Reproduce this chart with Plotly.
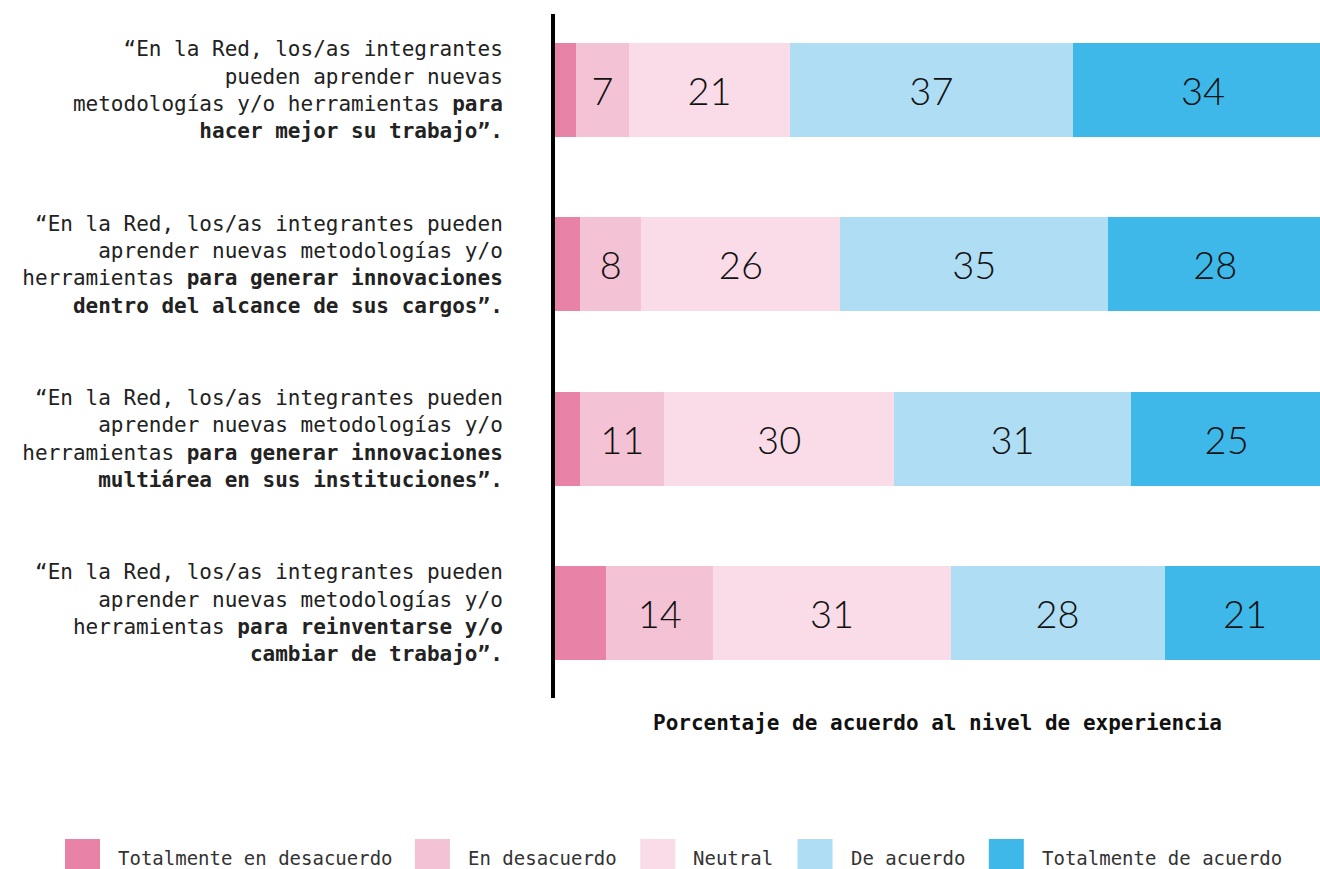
import plotly.graph_objects as go

# ---------------- data ----------------
statements = [
    "“En la Red, los/as integrantes<br>pueden aprender nuevas<br>metodologías y/o herramientas <b>para</b><br><b>hacer mejor su trabajo”.</b>",
    "“En la Red, los/as integrantes pueden<br>aprender nuevas metodologías y/o<br>herramientas <b>para generar innovaciones</b><br><b>dentro del alcance de sus cargos”.</b>",
    "“En la Red, los/as integrantes pueden<br>aprender nuevas metodologías y/o<br>herramientas <b>para generar innovaciones</b><br><b>multiárea en sus instituciones”.</b>",
    "“En la Red, los/as integrantes pueden<br>aprender nuevas metodologías y/o<br>herramientas <b>para reinventarse y/o</b><br><b>cambiar de trabajo”.</b>",
]
series_names = ["Totalmente en desacuerdo", "En desacuerdo", "Neutral", "De acuerdo", "Totalmente de acuerdo"]
totalmente_desacuerdo = [2.7, 3.3, 3.3, 6.7]
en_desacuerdo = [7, 8, 11, 14]
neutral = [21, 26, 30, 31]
de_acuerdo = [37, 35, 31, 28]
totalmente_acuerdo = [34, 28, 25, 21]
series_values = [totalmente_desacuerdo, en_desacuerdo, neutral, de_acuerdo, totalmente_acuerdo]
show_labels = [False, True, True, True, True]
colors = ["#E882A6", "#F4C2D5", "#F9DCE7", "#AEDDF4", "#3DB8E8"]
x_title = "Porcentaje de acuerdo al nivel de experiencia"

# ---------------- layout constants ----------------
W, H = 1320, 869
L, R, T, B = 555, 0, 14, 171
PW, PH = W - L - R, H - T - B
MONO = "DejaVu Sans Mono"

fig = go.Figure()
for name, vals, col, lab in zip(series_names, series_values, colors, show_labels):
    fig.add_trace(go.Bar(
        y=statements, x=vals, name=name, orientation="h",
        marker=dict(color=col, line=dict(width=0)),
        text=[f"{v:g}" for v in vals] if lab else None,
        textposition="inside" if lab else "none",
        insidetextanchor="middle",
        textfont=dict(family="Lato", size=38, color="#111", weight=300),
        constraintext="none",
        showlegend=False,
    ))

fig.update_layout(
    width=W, height=H,
    margin=dict(l=L, r=R, t=T, b=B),
    barmode="stack",
    bargap=0.46,
    plot_bgcolor="white", paper_bgcolor="white",
    font=dict(family=MONO, color="#222"),
)
fig.update_xaxes(
    range=[0, 100], showgrid=False, zeroline=False, showticklabels=False, ticks="",
    title=dict(text=f"<b>{x_title}</b>", font=dict(family=MONO, size=21, color="#111"), standoff=17),
)
fig.update_yaxes(
    categoryorder="array", categoryarray=statements,
    range=[3.488, -0.436],
    showgrid=False, zeroline=False, ticks="",
    showline=True, linecolor="black", linewidth=4,
    ticklabelstandoff=44,
    tickfont=dict(family=MONO, size=21, color="#222"),
)

# ---------------- custom legend (large swatches) ----------------
def px_x(p):
    return (p - L) / PW

def px_y(p):
    return (T + PH - p) / PH

char_w = 11.33
sw = 35
x = 65
for name, col in zip(series_names, colors):
    fig.add_shape(type="rect", xref="paper", yref="paper",
                  x0=px_x(x), x1=px_x(x + sw), y0=px_y(839), y1=px_y(874),
                  fillcolor=col, line=dict(width=0), layer="above")
    tx = x + sw + 16
    fig.add_annotation(xref="paper", yref="paper", x=px_x(tx), y=px_y(858),
                       xanchor="left", yanchor="middle", showarrow=False,
                       text=name, font=dict(family=MONO, size=19, color="#333"))
    x = tx + len(name) * char_w + 27

fig.write_html("out.html",
               config={"displayModeBar": False},
               post_script="document.body.style.margin='0';document.body.style.overflow='hidden';")
